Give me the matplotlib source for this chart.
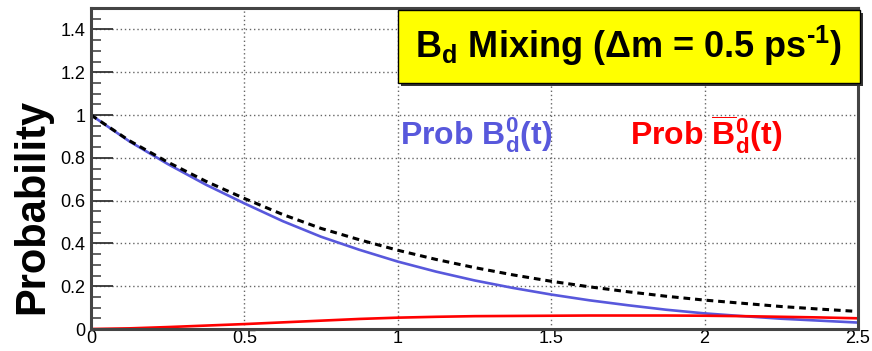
import matplotlib
matplotlib.use("Agg")
import matplotlib.pyplot as plt
from matplotlib.patches import Rectangle

# values
t = [0.0, 0.125, 0.25, 0.375, 0.5, 0.625, 0.75, 0.875, 1.0, 1.125, 1.25,
     1.375, 1.5, 1.625, 1.75, 1.875, 2.0, 2.125, 2.25, 2.375, 2.5]
prob_b0 = [1.0, 0.877, 0.771, 0.674, 0.587, 0.504, 0.431, 0.370, 0.315, 0.268, 0.227,
           0.192, 0.161, 0.134, 0.111, 0.090, 0.073, 0.060, 0.048, 0.039, 0.030]
prob_b0bar = [0.0, 0.003, 0.009, 0.016, 0.023, 0.031, 0.039, 0.047, 0.053, 0.057, 0.060,
              0.061, 0.062, 0.063, 0.063, 0.063, 0.062, 0.060, 0.057, 0.054, 0.050]
total = [1.0, 0.88, 0.78, 0.69, 0.61, 0.535, 0.47, 0.417, 0.368, 0.325, 0.287,
         0.253, 0.223, 0.197, 0.174, 0.153, 0.135, 0.120, 0.105, 0.093, 0.082]

xticks = [0, 0.5, 1, 1.5, 2, 2.5]
xticklabels = ["0", "0.5", "1", "1.5", "2", "2.5"]
yticks = [0, 0.2, 0.4, 0.6, 0.8, 1.0, 1.2, 1.4]
yticklabels = ["0", "0.2", "0.4", "0.6", "0.8", "1", "1.2", "1.4"]

plt.rcParams['font.family'] = ['Liberation Sans', 'DejaVu Sans']
plt.rcParams['mathtext.fontset'] = 'custom'
plt.rcParams['mathtext.rm'] = 'Liberation Sans:bold'
plt.rcParams['mathtext.bf'] = 'Liberation Sans:bold'
plt.rcParams['mathtext.it'] = 'Liberation Sans:bold'

fig = plt.figure(figsize=(8.72, 3.51), dpi=100)
ax = fig.add_axes((91/872, 1 - 329/351, 767/872, 321/351))

ax.plot(t, prob_b0, color='#5858dc', lw=1.9)
ax.plot(t, prob_b0bar, color='#ff0000', lw=1.9)
ax.plot(t, total, color='black', lw=2.2, linestyle=(0, (2.2, 1.6)))

ax.set_xlim(0, 2.5)
ax.set_ylim(0, 1.5)
ax.set_xticks(xticks)
ax.set_xticklabels(xticklabels)
ax.set_yticks(yticks)
ax.set_yticklabels(yticklabels)
ax.set_yticks([i * 0.05 for i in range(31)], minor=True)
ax.tick_params(axis='y', which='major', direction='in', length=16, width=1.3,
               color='#333333', labelsize=13, pad=4)
ax.tick_params(axis='y', which='minor', direction='in', length=7, width=1.3,
               color='#555555')
ax.tick_params(axis='x', which='major', direction='in', length=0, labelsize=13, pad=1)
ax.grid(True, color='#666666', linestyle=(0, (1, 2)), lw=1)

for s in ax.spines.values():
    s.set_linewidth(2.2)
    s.set_color('#444444')

fig.text(32/872, 1 - 206/351, 'Probability', rotation=90, fontsize=30,
         fontweight='bold', ha='center', va='center')

ax.text(400/872, 1 - 135/351, r'Prob B$^{0}_{d}$(t)', transform=fig.transFigure,
        color='#5858dc', fontsize=23, fontweight='bold', ha='left', va='center')
ax.text(630/872, 1 - 135/351, r'Prob $\overline{\mathrm{B}}^{0}_{d}$(t)',
        transform=fig.transFigure, color='#ff0000', fontsize=23,
        fontweight='bold', ha='left', va='center')

# title box with shadow
fig.patches.append(Rectangle((401/872, 1 - 86/351), 462/872, 73/351,
                             transform=fig.transFigure, facecolor='#333333',
                             edgecolor='none', zorder=5))
fig.patches.append(Rectangle((398/872, 1 - 83/351), 462/872, 73/351,
                             transform=fig.transFigure, facecolor='#ffff00',
                             edgecolor='black', lw=1, zorder=6))
fig.text(629/872, 1 - 46/351, r'B$_{d}$ Mixing (Δm = 0.5 ps$^{‐1}$)', fontsize=26,
         fontweight='bold', ha='center', va='center', zorder=7)

fig.savefig('out.png', dpi=100)
